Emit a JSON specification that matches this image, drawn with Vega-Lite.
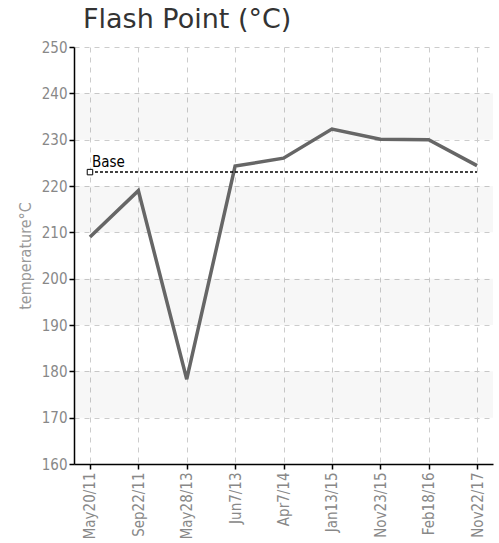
{
  "$schema": "https://vega.github.io/schema/vega-lite/v6.json",
  "width": 419,
  "height": 417,
  "autosize": {"type": "none"},
  "padding": {"left": 74, "top": 47, "right": 6, "bottom": 79},
  "background": "white",
  "title": {"text": "Flash Point (°C)", "anchor": "start", "frame": "group", "dx": 9, "offset": 6, "font": "DejaVu Sans", "fontSize": 27, "fontWeight": "normal", "color": "#333"},
  "config": {
    "view": {"stroke": null},
    "axis": {
      "domainColor": "#000", "domainWidth": 1.5, "tickColor": "#000", "tickWidth": 1.5, "tickSize": 5,
      "gridColor": "#cccccc", "gridDash": [5, 5], "gridWidth": 1,
      "labelFont": "DejaVu Sans Condensed", "labelColor": "#888", "titleFont": "DejaVu Sans Condensed", "titleColor": "#999", "titleFontWeight": "normal"
    }
  },
  "layer": [
    {
      "data": {"values": [{"lo": 230, "hi": 240}, {"lo": 210, "hi": 220}, {"lo": 190, "hi": 200}, {"lo": 170, "hi": 180}]},
      "mark": {"type": "rect", "color": "#000", "opacity": 0.03},
      "encoding": {
        "y": {"field": "lo", "type": "quantitative", "scale": {"domain": [160, 250], "nice": false, "zero": false},
          "axis": {"title": "temperature°C", "titleFontSize": 16, "titlePadding": 8, "values": [160, 170, 180, 190, 200, 210, 220, 230, 240, 250], "labelFontSize": 15, "labelPadding": 2, "grid": true}},
        "y2": {"field": "hi"}
      }
    },
    {
      "data": {"values": [
        {"date": "May20/11", "temp": 209},
        {"date": "Sep22/11", "temp": 219},
        {"date": "May28/13", "temp": 178.3},
        {"date": "Jun7/13", "temp": 224.3},
        {"date": "Apr7/14", "temp": 226},
        {"date": "Jan13/15", "temp": 232.3},
        {"date": "Nov23/15", "temp": 230.1},
        {"date": "Feb18/16", "temp": 230},
        {"date": "Nov22/17", "temp": 224.4}
      ]},
      "mark": {"type": "line", "color": "#666", "strokeWidth": 3.5},
      "encoding": {
        "x": {"field": "date", "type": "ordinal", "sort": null,
          "scale": {"type": "point", "padding": 0.33, "domain": ["May20/11", "Sep22/11", "May28/13", "Jun7/13", "Apr7/14", "Jan13/15", "Nov23/15", "Feb18/16", "Nov22/17"]},
          "axis": {"title": null, "labelAngle": -90, "labelFontSize": 15, "labelPadding": 3, "grid": true}},
        "y": {"field": "temp", "type": "quantitative", "scale": {"domain": [160, 250], "nice": false, "zero": false},
          "axis": {"title": "temperature°C", "titleFontSize": 16, "titlePadding": 8, "values": [160, 170, 180, 190, 200, 210, 220, 230, 240, 250], "labelFontSize": 15, "labelPadding": 2, "grid": true}}
      }
    },
    {
      "data": {"values": [{"label": "Base", "start": "May20/11", "end": "Nov22/17", "value": 223}]},
      "layer": [
        {
          "mark": {"type": "rule", "color": "#000", "strokeWidth": 1.5, "strokeDash": [3, 2]},
          "encoding": {
            "x": {"field": "start", "type": "ordinal"},
            "x2": {"field": "end"},
            "y": {"field": "value", "type": "quantitative"}
          }
        },
        {
          "mark": {"type": "point", "shape": "square", "filled": true, "fill": "white", "stroke": "#000", "strokeWidth": 1, "size": 30, "opacity": 1},
          "encoding": {
            "x": {"field": "start", "type": "ordinal"},
            "y": {"field": "value", "type": "quantitative"}
          }
        },
        {
          "mark": {"type": "text", "align": "left", "baseline": "alphabetic", "dx": 2, "dy": -5, "font": "DejaVu Sans Condensed", "fontSize": 15, "color": "#000"},
          "encoding": {
            "x": {"field": "start", "type": "ordinal"},
            "y": {"field": "value", "type": "quantitative"},
            "text": {"field": "label"}
          }
        }
      ]
    }
  ]
}
